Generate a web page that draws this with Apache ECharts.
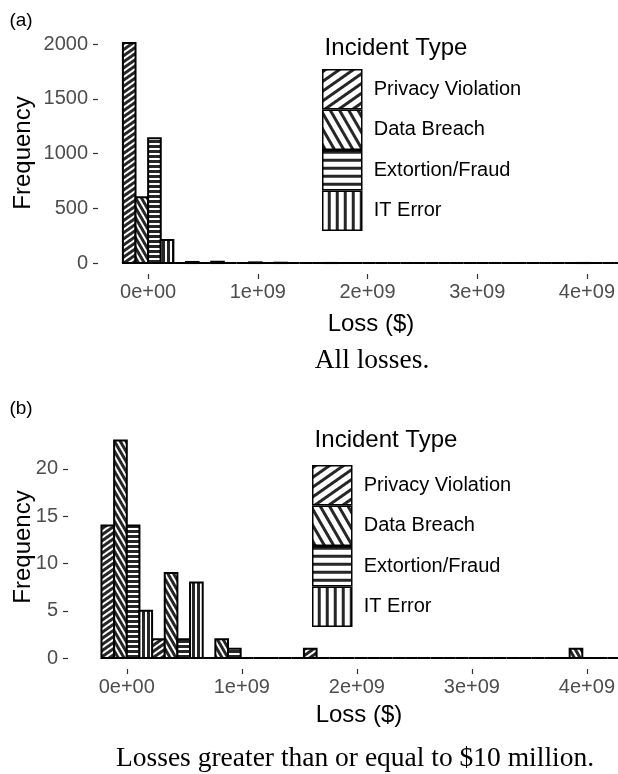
<!DOCTYPE html>
<html>
<head>
<meta charset="utf-8">
<script src="https://cdn.jsdelivr.net/npm/echarts@6/dist/echarts.min.js"></script>
<style>
  html, body { margin: 0; padding: 0; background: #fff; }
  #chart { width: 618px; height: 774px; }
</style>
</head>
<body>
<div id="chart"></div>
<script>
// incident types, in the order the bars are dodged inside a bin
var types = ['Privacy Violation', 'Data Breach', 'Extortion/Fraud', 'IT Error'];

// (a) all losses -- bin centres in dollars, counts per type
var binWidthA = 4.6e8;
var binsA = [0, 4.6e8, 9.2e8, 1.38e9, 1.84e9, 2.3e9, 2.76e9, 3.22e9, 3.68e9, 4.14e9];
var privacyA = [2010, 0, 0, 3, 1, 0, 0, 0, 0, 1];
var breachA = [600, 10, 0, 0, 0, 0, 0, 0, 0, 0];
var fraudA = [1140, 0, 6, 0, 0, 0, 0, 0, 0, 0];
var itErrorA = [210, 12, 0, 0, 0, 0, 0, 0, 0, 0];

// (b) losses >= $10 million
var binWidthB = 4.4e8;
var binsB = [0, 4.4e8, 8.8e8, 1.32e9, 1.76e9, 2.2e9, 2.64e9, 3.08e9, 3.52e9, 3.96e9, 4.4e9];
var privacyB = [14, 2, 0, 0, 1, 0, 0, 0, 0, 0, 0];
var breachB = [23, 9, 2, 0, 0, 0, 0, 0, 0, 1, 0];
var fraudB = [14, 2, 1, 0, 0, 0, 0, 0, 0, 0, 0];
var itErrorB = [5, 8, 0, 0, 0, 0, 0, 0, 0, 0, 0];

// axis ticks
var xTicks = [0, 1e9, 2e9, 3e9, 4e9];
var xTickLabels = ['0e+00', '1e+09', '2e+09', '3e+09', '4e+09'];
var yTicksA = [0, 500, 1000, 1500, 2000];
var yTicksB = [0, 5, 10, 15, 20];

var sans = 'Liberation Sans, Arial, sans-serif';
var serif = 'Liberation Serif, Times New Roman, serif';

// striped fill: a tile with one dark band, rotated into place
function stripes(period, thick, angle) {
  var c = document.createElement('canvas');
  c.width = period; c.height = period;
  var ctx = c.getContext('2d');
  ctx.fillStyle = '#fff';
  ctx.fillRect(0, 0, period, period);
  ctx.fillStyle = '#262626';
  ctx.fillRect(0, 0, period, thick);
  return { image: c, repeat: 'repeat', rotation: angle * Math.PI / 180 };
}

var angles = [-35, 60, 0, 90];
var barFills = angles.map(function (a) { return stripes(5, 3, a); });
var keyFills = angles.map(function (a) { return stripes(8, 3, a); });

function makeSeries(gridIdx, width, bins, counts) {
  return types.map(function (name, k) {
    return {
      name: name,
      type: 'custom',
      xAxisIndex: gridIdx,
      yAxisIndex: gridIdx,
      itemStyle: { color: barFills[k] },
      silent: true,
      data: bins.map(function (b, i) { return [b, counts[k][i]]; }),
      renderItem: function (params, api) {
        var x0 = api.value(0) - width / 2 + k * width / 4;
        var p0 = api.coord([x0, api.value(1)]);
        var p1 = api.coord([x0 + width / 4, 0]);
        return {
          type: 'rect',
          shape: { x: p0[0], y: p0[1], width: p1[0] - p0[0], height: p1[1] - p0[1] },
          style: { fill: barFills[k], stroke: '#000', lineWidth: 2 }
        };
      }
    };
  });
}

function xAxis(gridIdx, min, max) {
  return {
    type: 'value', gridIndex: gridIdx, min: min, max: max,
    splitLine: { show: false },
    axisLine: { show: false, onZero: false },
    axisTick: { show: true, customValues: xTicks, length: 5, lineStyle: { color: '#333', width: 1.2 } },
    axisLabel: {
      customValues: xTicks, margin: 8, color: '#4d4d4d', fontSize: 20, fontFamily: sans,
      formatter: function (v) { return xTickLabels[xTicks.indexOf(v)]; }
    }
  };
}

function yAxis(gridIdx, min, max, ticks) {
  return {
    type: 'value', gridIndex: gridIdx, min: min, max: max,
    splitLine: { show: false },
    axisLine: { show: false, onZero: false },
    axisTick: { show: true, customValues: ticks, length: 5, lineStyle: { color: '#333', width: 1.2 } },
    axisLabel: {
      customValues: ticks, margin: 10, color: '#4d4d4d', fontSize: 20, fontFamily: sans,
      formatter: function (v) { return String(v); }
    }
  };
}

function legend(left, top) {
  return {
    orient: 'vertical', left: left, top: top, padding: 0,
    itemWidth: 39, itemHeight: 39, itemGap: 0, icon: 'rect',
    selectedMode: false,
    textStyle: { fontSize: 20, color: '#000', fontFamily: sans, padding: [0, 0, 0, 7] },
    data: types.map(function (t, k) {
      return { name: t, itemStyle: { color: keyFills[k], borderColor: '#000', borderWidth: 1.5 } };
    })
  };
}

function label(text, x, y, size, font, rot) {
  return {
    type: 'text', x: x, y: y, rotation: rot || 0,
    style: { text: text, fontSize: size, fontFamily: font, fill: '#000', align: 'center', verticalAlign: 'middle' }
  };
}

var chart = echarts.init(document.getElementById('chart'));

chart.setOption({
  animation: false,
  backgroundColor: '#fff',
  grid: [
    { left: 98, top: 32, width: 520, height: 242 },
    { left: 68, top: 429.5, width: 550, height: 239.5 }
  ],
  xAxis: [xAxis(0, -4.57e8, 4.23e9), xAxis(1, -5.11e8, 4.202e9)],
  yAxis: [yAxis(0, -100, 2110, yTicksA), yAxis(1, -1.15, 24.15, yTicksB)],
  legend: [legend(322, 69), legend(312, 465)],
  graphic: [
    label('(a)', 21, 21, 19, sans),
    label('Frequency', 23, 153, 24, sans, Math.PI / 2),
    label('Loss ($)', 371, 324, 24, sans),
    label('All losses.', 372, 361, 27.5, serif),
    label('Incident Type', 396, 48, 24, sans),
    label('(b)', 21, 409, 19, sans),
    label('Frequency', 23, 547, 24, sans, Math.PI / 2),
    label('Loss ($)', 359, 715, 24, sans),
    label('Incident Type', 386, 440, 24, sans),
    label('Losses greater than or equal to $10 million.', 355, 759, 27.5, serif)
  ],
  series: makeSeries(0, binWidthA, binsA, [privacyA, breachA, fraudA, itErrorA])
    .concat(makeSeries(1, binWidthB, binsB, [privacyB, breachB, fraudB, itErrorB]))
});
</script>
</body>
</html>
